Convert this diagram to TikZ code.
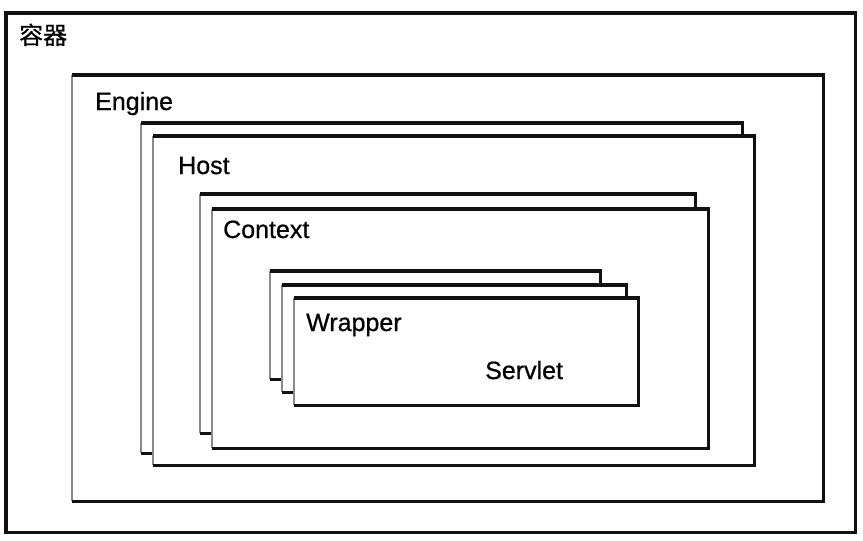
\documentclass[tikz,border=0pt]{standalone}
\usepackage{fontspec}
\setmainfont{Liberation Sans}[FakeBold=0.7]
\newfontfamily\cjk{Noto Sans CJK SC}[FakeBold=0.7]
\usepackage{xcolor}
\usepackage{tikz}
\usetikzlibrary{positioning}
\definecolor{inkc}{HTML}{111111}
\definecolor{fadec}{HTML}{8A8A8A}
\tikzset{
  panel/.style={fill=white,inner sep=0pt,anchor=north west},
  rim/.style={line width=3.2pt,inkc,line join=miter},
  faint/.style={line width=1.3pt,fadec},
  outer/.style={line width=3.8pt,inkc,line join=miter},
  lbl/.style={font=\fontsize{25}{30}\selectfont,inner sep=0pt,anchor=base west}
}
\begin{document}
\begin{tikzpicture}[x=1pt,y=-1pt]
\useasboundingbox (0,0) rectangle (863,541);
\fill[white] (0,0) rectangle (863,541);
% container
\node[panel,fill=none,minimum width=849pt,minimum height=519pt] (container) at (6,13) {};
\draw[outer] (container.north west) rectangle (container.south east);
% nested boxes, back to front
\foreach \n/\xa/\ya/\w/\h in {engine/72/75/751/426,
    hostb/141/123/601/330, host/153/136/601/329,
    ctxb/200/194/495/239, ctx/212/209/496/239,
    wrapa/270/271/330/108, wrapb/282/285/344/107, wrap/294/298/344/107}{
  \node[panel,minimum width=\w pt,minimum height=\h pt] (\n) at (\xa,\ya) {};
  \draw[faint] (\n.south west) -- (\n.north west);
  \draw[rim] (\n.north west) -- (\n.north east) -- (\n.south east) -- (\n.south west);
}
% labels
\node[lbl,font=\cjk\fontsize{24}{28}\selectfont] (lcont) at (19,44) {容器};
\node[lbl] (leng) at (95,110) {Engine};
\node[lbl] (lhost) at (178,174) {Host};
\node[lbl] (lctx) at (223,238) {Context};
\node[lbl] (lwrap) at (306,331) {Wrapper};
\node[lbl] (lserv) at (485,379) {Servlet};
\end{tikzpicture}
\end{document}
